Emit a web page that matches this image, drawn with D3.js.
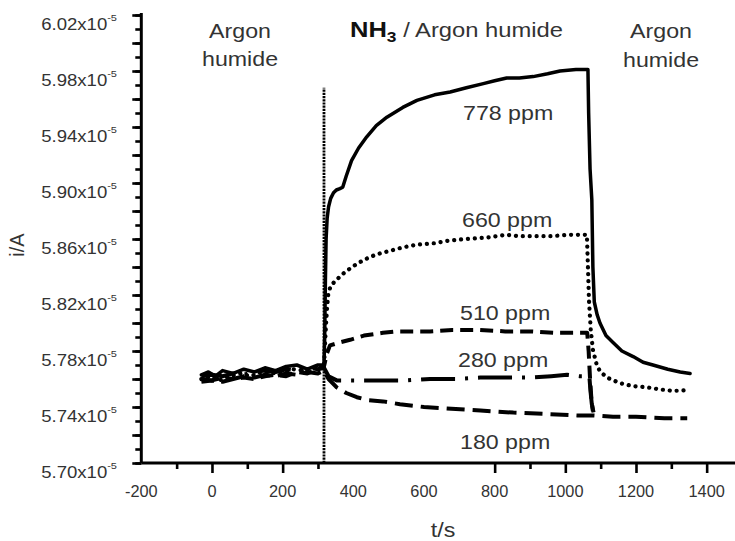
<!DOCTYPE html>
<html><head><meta charset="utf-8">
<script src="https://cdn.jsdelivr.net/npm/d3@7"></script>
<style>
body{margin:0;background:#fff}
text{font-family:"Liberation Sans",Arial,Helvetica,sans-serif;fill:#333}
</style>
</head><body>
<svg id="c" width="735" height="541"></svg>
<script>
// ---- data (i in units of 1e-5 A, t in s) ----
const yTickLabels = ["5.70","5.74","5.78","5.82","5.86","5.90","5.94","5.98","6.02"];
const xTickLabels = [-200,0,200,400,600,800,1000,1200,1400];
const xMajorTicks = [0,200,800,1000,1200,1400];
const xMinorTicks = [-100,100,300,900,1100,1300];
const switchT = 317;

const t778 = [-30,-10,10,30,60,90,120,150,180,210,240,270,300,317,319,321,323,326,330,336,344,352,362,370,380,395,415,438,465,495,540,580,630,674,720,768,800,834,870,909,950,985,1030,1062,1064,1066,1070,1075,1078,1082,1090,1098,1115,1135,1160,1192,1220,1248,1290,1325,1353];
const v778 = [5.763,5.765,5.762,5.766,5.764,5.767,5.765,5.768,5.766,5.769,5.770,5.767,5.770,5.770,5.790,5.830,5.860,5.875,5.883,5.889,5.893,5.895,5.896,5.897,5.905,5.916,5.925,5.933,5.941,5.947,5.954,5.959,5.963,5.965,5.968,5.971,5.973,5.975,5.975,5.976,5.978,5.980,5.981,5.981,5.981,5.950,5.910,5.888,5.840,5.815,5.806,5.800,5.791,5.786,5.780,5.776,5.772,5.770,5.767,5.765,5.764];

const t660 = [-30,-5,20,50,80,110,140,170,200,230,260,290,317,320,323,326,329,335,345,353,370,391,415,438,465,495,540,580,630,674,720,778,834,870,909,960,1010,1061,1064,1067,1072,1078,1090,1100,1118,1155,1190,1231,1270,1305,1347];
const v660 = [5.760,5.762,5.759,5.762,5.764,5.762,5.765,5.764,5.765,5.767,5.766,5.768,5.768,5.785,5.800,5.812,5.820,5.826,5.829,5.831,5.835,5.839,5.843,5.846,5.849,5.851,5.854,5.856,5.857,5.859,5.860,5.861,5.863,5.862,5.862,5.862,5.863,5.863,5.840,5.816,5.795,5.781,5.769,5.765,5.761,5.757,5.755,5.754,5.7525,5.7515,5.752];

const t510 = [-30,0,30,60,90,120,150,180,210,240,270,300,317,325,334,360,391,430,484,524,570,617,680,759,830,900,970,1033,1062,1066,1070,1074,1078];
const v510 = [5.758,5.759,5.758,5.760,5.761,5.760,5.762,5.763,5.762,5.765,5.764,5.767,5.769,5.778,5.784,5.786,5.788,5.791,5.793,5.794,5.794,5.794,5.795,5.795,5.794,5.794,5.793,5.793,5.793,5.780,5.760,5.745,5.737];

const t280 = [-30,0,30,60,90,120,150,180,210,240,270,300,317,330,353,390,428,484,550,617,690,759,830,900,960,1005,1040,1068,1071,1075,1080];
const v280 = [5.762,5.763,5.762,5.764,5.763,5.765,5.766,5.765,5.767,5.766,5.768,5.767,5.768,5.762,5.759,5.759,5.759,5.759,5.759,5.760,5.760,5.761,5.761,5.761,5.762,5.763,5.762,5.762,5.752,5.742,5.736];

const t180 = [-30,0,30,60,90,120,150,180,210,240,270,300,317,330,353,380,410,440,484,532,600,665,760,853,950,1033,1080,1135,1200,1280,1345];
const v180 = [5.760,5.759,5.761,5.760,5.762,5.761,5.763,5.762,5.764,5.763,5.765,5.764,5.766,5.760,5.754,5.750,5.747,5.745,5.744,5.742,5.740,5.739,5.7375,5.736,5.735,5.734,5.734,5.733,5.733,5.732,5.732];

const seriesNames = ["778 ppm","660 ppm","510 ppm","280 ppm","180 ppm"];

// ---- setup ----
const svg = d3.select("#c");
const x = d3.scaleLinear().domain([-200,1500]).range([141.3,742]);
const y = d3.scaleLinear().domain([5.70,6.02]).range([463,15]);
const SX = 1.16;

function txt(xp, yp, str, size, anchor, weight, sx){
  const g = svg.append("g").attr("transform",`translate(${xp},${yp}) scale(${sx||SX},1)`);
  const t = g.append("text").attr("font-size",size).attr("text-anchor",anchor||"start");
  if(weight) t.attr("font-weight",weight);
  t.text(str);
  return t;
}

// axes
const yMinor = d3.range(5.70,6.0201,0.01).map(v=>+v.toFixed(2));
const yMajor = d3.range(5.70,6.0201,0.02).map(v=>+v.toFixed(2));
const axL1 = svg.append("g").attr("transform","translate(141.3,0)")
  .call(d3.axisLeft(y).tickValues(yMinor).tickSize(6).tickSizeOuter(0).tickFormat(""));
const axL2 = svg.append("g").attr("transform","translate(141.3,0)")
  .call(d3.axisLeft(y).tickValues(yMajor).tickSize(9).tickSizeOuter(0).tickFormat(""));
const axB1 = svg.append("g").attr("transform","translate(0,463)")
  .call(d3.axisBottom(x).tickValues(xMinorTicks).tickSize(6).tickSizeOuter(0).tickFormat(""));
const axB2 = svg.append("g").attr("transform","translate(0,463)")
  .call(d3.axisBottom(x).tickValues(xMajorTicks).tickSize(10).tickSizeOuter(0).tickFormat(""));
svg.selectAll(".domain").attr("stroke","#000").attr("stroke-width",3);
svg.selectAll(".tick line").attr("stroke","#000").attr("stroke-width",2.6);
axL1.select(".domain").attr("d","M0,463V13");
axL2.select(".domain").remove();
axB2.select(".domain").remove();
axB1.select(".domain").attr("d","M141.3,0H735");

// y tick labels
yTickLabels.forEach(s=>{
  const v = +s;
  const t = txt(117, y(v)+15, "", 16, "end");
  t.append("tspan").text(s+"x10");
  t.append("tspan").attr("font-size",9.5).attr("dy",-9).text("-5");
});
// x tick labels
xTickLabels.forEach(v=>{ txt(x(v), 497, String(v), 16, "middle", null, 1.02); });

// axis titles
txt(x(600)+19, 537, "t/s", 20, "middle");
svg.append("g").attr("transform","translate(24,245) rotate(-90)")
  .append("text").attr("font-size",20).attr("text-anchor","middle").text("i/A");

// vertical switch line
svg.append("line").attr("x1",x(switchT)).attr("x2",x(switchT))
  .attr("y1",y(5.70)).attr("y2",y(5.968))
  .attr("stroke","#000").attr("stroke-width",2.8).attr("stroke-dasharray","2.2 1");

// curves
const line = d3.line().x(d=>x(d[0])).y(d=>y(d[1]));
const zip = (a,b)=>a.map((t,i)=>[t,b[i]]);
const styles = [
  {t:t778,v:v778,dash:null,w:3.5,cap:"round"},
  {t:t660,v:v660,dash:"0.1 6.8",w:4.2,cap:"round"},
  {t:t510,v:v510,dash:"13 7",w:4,cap:"butt"},
  {t:t280,v:v280,dash:"34 10 3 10",w:4,cap:"butt"},
  {t:t180,v:v180,dash:"18 8",w:4,cap:"butt"}
];
styles.forEach(s=>{
  svg.append("path").datum(zip(s.t,s.v)).attr("d",line)
    .attr("fill","none").attr("stroke","#000").attr("stroke-width",s.w)
    .attr("stroke-linecap",s.cap).attr("stroke-linejoin","round")
    .attr("stroke-dasharray",s.dash);
});

// series labels
txt(463,120,seriesNames[0],20,"start");
txt(462,227,seriesNames[1],20,"start");
txt(460,320,seriesNames[2],20,"start");
txt(458,367,seriesNames[3],20,"start");
txt(460,449,seriesNames[4],20,"start");

// region labels
txt(240,38,"Argon",20,"middle");
txt(240,66,"humide",20,"middle");
txt(661,38,"Argon",20,"middle");
txt(661,67,"humide",20,"middle");
const tt = txt(350,37,"",20.5,"start");
tt.append("tspan").attr("font-weight","bold").attr("font-size",22).attr("fill","#111").text("NH");
tt.append("tspan").attr("font-weight","bold").attr("font-size",15).attr("dy",5).attr("fill","#111").text("3");
tt.append("tspan").attr("dy",-5).text(" / Argon humide");
</script>
</body></html>
